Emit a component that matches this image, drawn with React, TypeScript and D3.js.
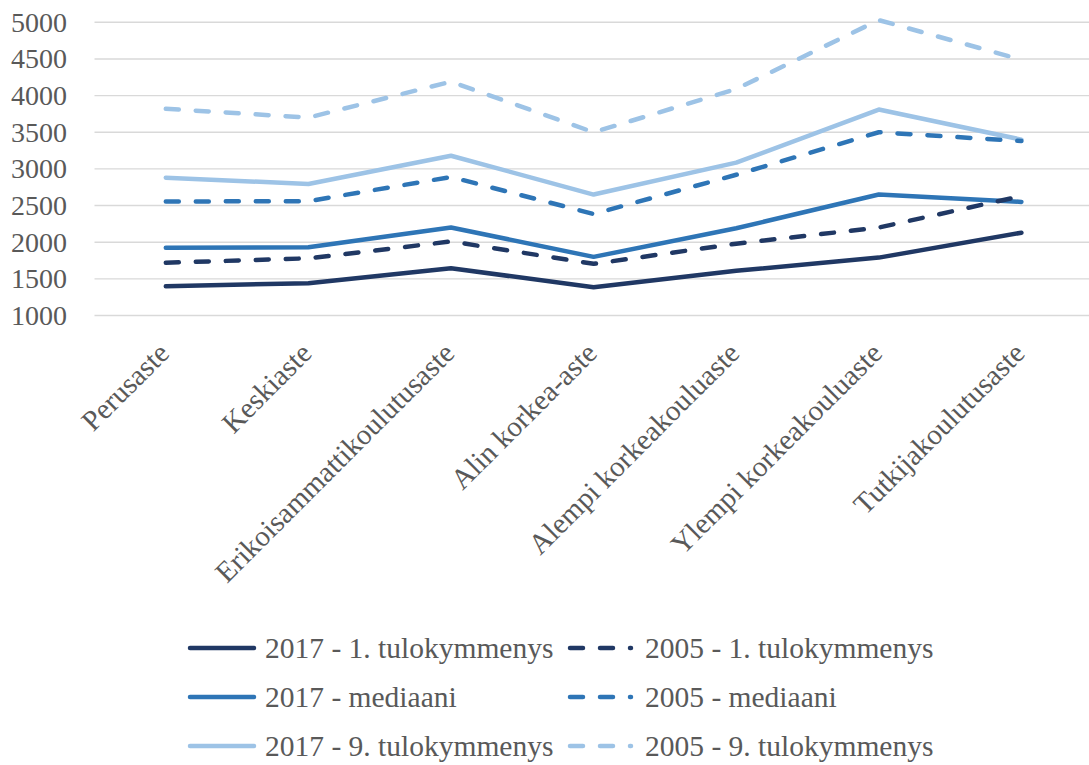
import React from 'react';
import * as d3 from 'd3';

const categories = [
  'Perusaste',
  'Keskiaste',
  'Erikoisammattikoulutusaste',
  'Alin korkea-aste',
  'Alempi korkeakouluaste',
  'Ylempi korkeakouluaste',
  'Tutkijakoulutusaste',
];

const yTicks = [1000, 1500, 2000, 2500, 3000, 3500, 4000, 4500, 5000];

const s2017Decile1 = [1400, 1440, 1645, 1385, 1610, 1790, 2130];
const s2005Decile1 = [1720, 1780, 2010, 1705, 1980, 2200, 2630];
const s2017Median = [1925, 1930, 2200, 1800, 2190, 2650, 2550];
const s2005Median = [2555, 2560, 2890, 2385, 2920, 3500, 3380];
const s2017Decile9 = [2880, 2795, 3180, 2650, 3085, 3810, 3400];
const s2005Decile9 = [3820, 3700, 4190, 3500, 4090, 5030, 4490];

const seriesNames = [
  '2017 - 1. tulokymmenys',
  '2005 - 1. tulokymmenys',
  '2017 - mediaani',
  '2005 - mediaani',
  '2017 - 9. tulokymmenys',
  '2005 - 9. tulokymmenys',
];

const DARK = '#203864';
const MID = '#2E75B6';
const LIGHT = '#9DC3E6';
const TEXT = '#595959';
const FONT = '"Liberation Serif", "Palatino Linotype", serif';

type Series = { name: string; values: number[]; color: string; dashed: boolean };

const series: Series[] = [
  { name: seriesNames[0], values: s2017Decile1, color: DARK, dashed: false },
  { name: seriesNames[1], values: s2005Decile1, color: DARK, dashed: true },
  { name: seriesNames[2], values: s2017Median, color: MID, dashed: false },
  { name: seriesNames[3], values: s2005Median, color: MID, dashed: true },
  { name: seriesNames[4], values: s2017Decile9, color: LIGHT, dashed: false },
  { name: seriesNames[5], values: s2005Decile9, color: LIGHT, dashed: true },
];

// draw solid (2017) first, then dashed (2005) on top
const drawOrder = [0, 2, 4, 1, 3, 5];

export default function App() {
  const W = 1089;
  const H = 765;
  const plotLeft = 94.5;
  const plotRight = 1092.7;
  const x = d3.scaleBand<string>().domain(categories).range([plotLeft, plotRight]).paddingInner(0).paddingOuter(0);
  const cx = (c: string) => (x(c) as number) + x.bandwidth() / 2;
  const y = d3.scaleLinear().domain([1000, 5000]).range([315.5, 22.3]);

  const line = d3
    .line<number>()
    .x((_, i) => cx(categories[i]))
    .y((d) => y(d));

  const dash = '13 17';
  const lw = 4.5;

  const legendRows = [648, 697, 746];
  const legendCols = [{ lx: 190, tx: 265 }, { lx: 570, tx: 645 }];

  return (
    <svg
      width={W}
      height={H}
      style={{ position: 'absolute', left: 0, top: 0, background: '#fff' }}
      fontFamily={FONT}
    >
      <rect x={0} y={0} width={W} height={H} fill="#fff" />
      {yTicks.map((t) => (
        <g key={t}>
          <line x1={plotLeft} x2={W} y1={y(t)} y2={y(t)} stroke="#d9d9d9" strokeWidth={1.4} />
          <text x={67} y={y(t)} textAnchor="end" dominantBaseline="central" fontSize={28} fill={TEXT}>
            {t}
          </text>
        </g>
      ))}
      {categories.map((c) => (
        <text
          key={c}
          transform={`translate(${cx(c) + 5},${355}) rotate(-45)`}
          textAnchor="end"
          fontSize={29}
          fill={TEXT}
        >
          {c}
        </text>
      ))}
      {drawOrder.map((i) => {
        const s = series[i];
        return (
          <path
            key={s.name}
            d={line(s.values) || ''}
            fill="none"
            stroke={s.color}
            strokeWidth={lw}
            strokeLinejoin="round"
            strokeLinecap="round"
            strokeDasharray={s.dashed ? dash : undefined}
          />
        );
      })}
      {series.map((s, i) => {
        const row = Math.floor(i / 2);
        const col = legendCols[i % 2];
        const ly = legendRows[row];
        return (
          <g key={'lg' + s.name}>
            <line
              x1={col.lx}
              x2={col.lx + (s.dashed ? 61 : 64)}
              y1={ly}
              y2={ly}
              stroke={s.color}
              strokeWidth={lw}
              strokeLinecap="round"
              strokeDasharray={s.dashed ? dash : undefined}
            />
            <text x={col.tx} y={ly} dominantBaseline="central" fontSize={29.5} fill={TEXT}>
              {s.name}
            </text>
          </g>
        );
      })}
    </svg>
  );
}
